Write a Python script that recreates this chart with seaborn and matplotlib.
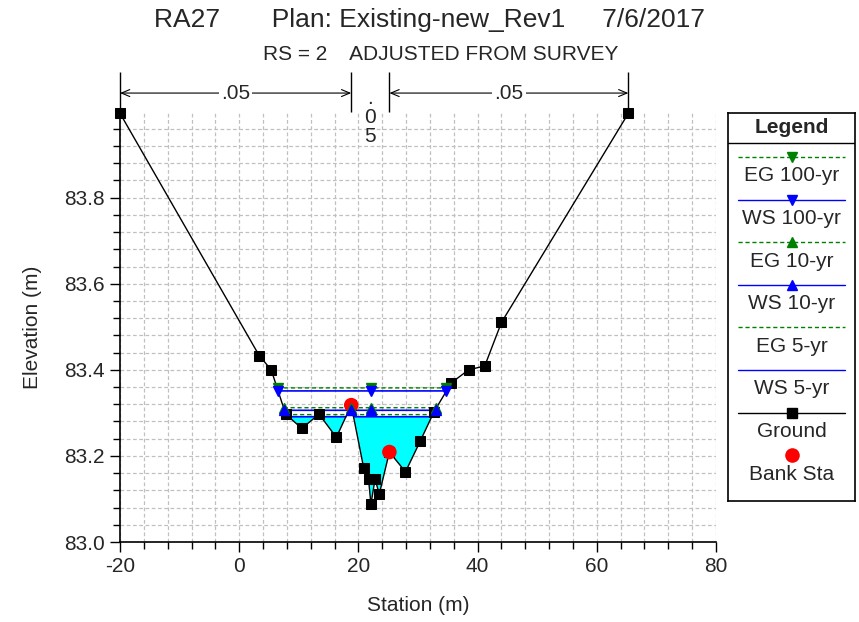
import numpy as np
import pandas as pd
import matplotlib
matplotlib.use("Agg")
import matplotlib.pyplot as plt
from matplotlib.ticker import MultipleLocator
import seaborn as sns

# ---------------- data ----------------
ground_sta = [-20.0, 3.36, 5.37, 7.8, 10.5, 13.4, 16.3, 18.8, 20.9, 21.7, 22.1,
              22.8, 23.5, 25.2, 27.9, 30.4, 32.7, 35.6, 38.5, 41.2, 44.0, 65.3]
ground_elev = [83.996, 83.433, 83.400, 83.297, 83.264, 83.297, 83.243, 83.318,
               83.171, 83.146, 83.088, 83.146, 83.111, 83.209, 83.163, 83.235,
               83.303, 83.370, 83.400, 83.409, 83.510, 83.996]
bank_sta = [18.8, 25.2]
bank_elev = [83.318, 83.209]

profiles = ["EG 100-yr", "WS 100-yr", "EG 10-yr", "WS 10-yr", "EG 5-yr", "WS 5-yr"]
profile_elev = [83.358, 83.351, 83.312, 83.306, 83.296, 83.291]
marker_sta_100 = [6.5, 22.1, 34.7]
marker_sta_10 = [7.45, 18.8, 22.1, 33.0]

mann_n_labels = [".05", ".05", ".05"]
title_text = "RA27       Plan: Existing-new_Rev1     7/6/2017"
subtitle_text = "RS = 2    ADJUSTED FROM SURVEY"

# ---------------- style ----------------
sns.set_style("white")
plt.rcParams["font.family"] = ["Liberation Sans", "DejaVu Sans"]
plt.rcParams["axes.unicode_minus"] = False

GREEN = "#008000"
BLUE = "#0000FF"
FS = 15

fig = plt.figure(figsize=(8.59, 6.22), dpi=100)
ax = fig.add_axes([120 / 859, 1 - 542 / 622, 596 / 859, 430 / 622])

gx = np.array(ground_sta)
gy = np.array(ground_elev)

# dense sampling for wetted extents
xs = np.linspace(gx.min(), gx.max(), 20001)
gi = np.interp(xs, gx, gy)


def level_line(level):
    return np.where(gi < level, level, np.nan)


# water fill (lowest profile)
ws5 = profile_elev[5]
ax.fill_between(xs, gi, ws5, where=gi < ws5, color="#00FFFF", linewidth=0, zorder=1)

styles = {
    "EG": dict(color=GREEN, lw=1.0, linestyle=(0, (3, 2))),
    "WS": dict(color=BLUE, lw=1.2, linestyle="-"),
}
for name, lev in zip(profiles, profile_elev):
    st = styles[name[:2]]
    ax.plot(xs, level_line(lev), zorder=2, **st)

# ground
gdf = pd.DataFrame({"Station": gx, "Elevation": gy})
sns.lineplot(data=gdf, x="Station", y="Elevation", sort=False, estimator=None,
             color="black", lw=1.0, marker="s", markersize=6.5,
             markeredgecolor="black", ax=ax, zorder=3, clip_on=False)

# bank stations
sns.scatterplot(x=bank_sta, y=bank_elev, color="red", s=110, edgecolor="none",
                ax=ax, zorder=4)

# profile markers
mk = [("v", marker_sta_100, profile_elev[0], GREEN),
      ("v", marker_sta_100, profile_elev[1], BLUE),
      ("^", marker_sta_10, profile_elev[2], GREEN),
      ("^", marker_sta_10, profile_elev[3], BLUE)]
for m, xsm, lev, c in mk:
    ax.plot(xsm, [lev] * len(xsm), linestyle="none", marker=m, color=c,
            markersize=7.5, zorder=5)

# axes setup
ax.set_xlim(-20, 80)
ax.set_ylim(83.0, 83.999)
ax.xaxis.set_major_locator(MultipleLocator(20))
ax.xaxis.set_minor_locator(MultipleLocator(4))
ax.yaxis.set_major_locator(MultipleLocator(0.2))
ax.yaxis.set_minor_locator(MultipleLocator(0.04))
ax.yaxis.set_major_formatter(matplotlib.ticker.FormatStrFormatter("%.1f"))
ax.grid(which="both", color="#c0c0c0", linestyle=(0, (3, 2)), lw=0.9)
ax.set_axisbelow(True)
for s in ["top", "right"]:
    ax.spines[s].set_visible(False)
for s in ["left", "bottom"]:
    ax.spines[s].set_color("black")
    ax.spines[s].set_linewidth(1.2)
ax.tick_params(which="major", direction="out", length=7, width=1, labelsize=FS,
               color="black", left=True, bottom=True, pad=4)
ax.tick_params(which="minor", direction="out", length=5, width=1, color="black",
               left=True, bottom=True)
ax.set_xlabel("Station (m)", fontsize=FS, labelpad=14)
ax.set_ylabel("Elevation (m)", fontsize=FS, labelpad=16)

# Manning's n annotations above the section
y_arrow = 84.043
y_top = 84.093
y_bot = 84.0
vx = [ground_sta[0], bank_sta[0], bank_sta[1], ground_sta[-1]]
ax.vlines(vx, y_bot, y_top, color="black", lw=1.0, clip_on=False, zorder=6)
for (x0, x1), lab in zip([(vx[0], vx[1]), (vx[2], vx[3])], [mann_n_labels[0], mann_n_labels[2]]):
    ax.annotate("", xy=(x1, y_arrow), xytext=(x0, y_arrow), annotation_clip=False,
                arrowprops=dict(arrowstyle="<->,head_length=0.6,head_width=0.25",
                                lw=0.8, color="black", shrinkA=0, shrinkB=0))
    ax.text((x0 + x1) / 2, y_arrow, lab, ha="center", va="center", fontsize=FS,
            bbox=dict(facecolor="white", edgecolor="none", pad=1.5), clip_on=False, zorder=7)
ax.text((vx[1] + vx[2]) / 2, 83.986, "\n".join(list(mann_n_labels[1])), ha="center",
        va="center", fontsize=FS, linespacing=1.0, clip_on=False, zorder=7)

# titles
fig.text(430 / 859, 1 - 20 / 622, title_text, ha="center", va="center", fontsize=19)
fig.text(441 / 859, 1 - 55 / 622, subtitle_text, ha="center", va="center", fontsize=15)

# ---------------- legend ----------------
lax = fig.add_axes([728 / 859, 1 - 501 / 622, 127 / 859, 388 / 622])
lax.set_xlim(728, 855)
lax.set_ylim(501, 113)
lax.set_xticks([])
lax.set_yticks([])
for s in lax.spines.values():
    s.set_color("black")
    s.set_linewidth(1.2)
lax.axhline(143, color="black", lw=1.0)
lax.text(791.5, 127.5, "Legend", ha="center", va="center", fontsize=FS, fontweight="bold")

leg_items = [
    ("EG 100-yr", GREEN, (0, (3, 2)), "v"),
    ("WS 100-yr", BLUE, "-", "v"),
    ("EG 10-yr", GREEN, (0, (3, 2)), "^"),
    ("WS 10-yr", BLUE, "-", "^"),
    ("EG 5-yr", GREEN, (0, (3, 2)), None),
    ("WS 5-yr", BLUE, "-", None),
    ("Ground", "black", "-", "s"),
]
y0 = 157
dy = 42.6
for i, (lab, c, ls, m) in enumerate(leg_items):
    yl = y0 + i * dy
    lax.plot([738, 845], [yl, yl], color=c, linestyle=ls, lw=1.0)
    if m is not None:
        lax.plot([791.5], [yl], marker=m, color=c, markersize=7 if m != "s" else 6.5,
                 linestyle="none")
    lax.text(791.5, yl + 19, lab, ha="center", va="center", fontsize=FS)
yl = y0 + 7 * dy
lax.plot([791.5], [yl], marker="o", color="red", markersize=10.5, linestyle="none",
         markeredgewidth=0)
lax.text(791.5, yl + 19, "Bank Sta", ha="center", va="center", fontsize=FS)

fig.savefig("out.png", dpi=100)
